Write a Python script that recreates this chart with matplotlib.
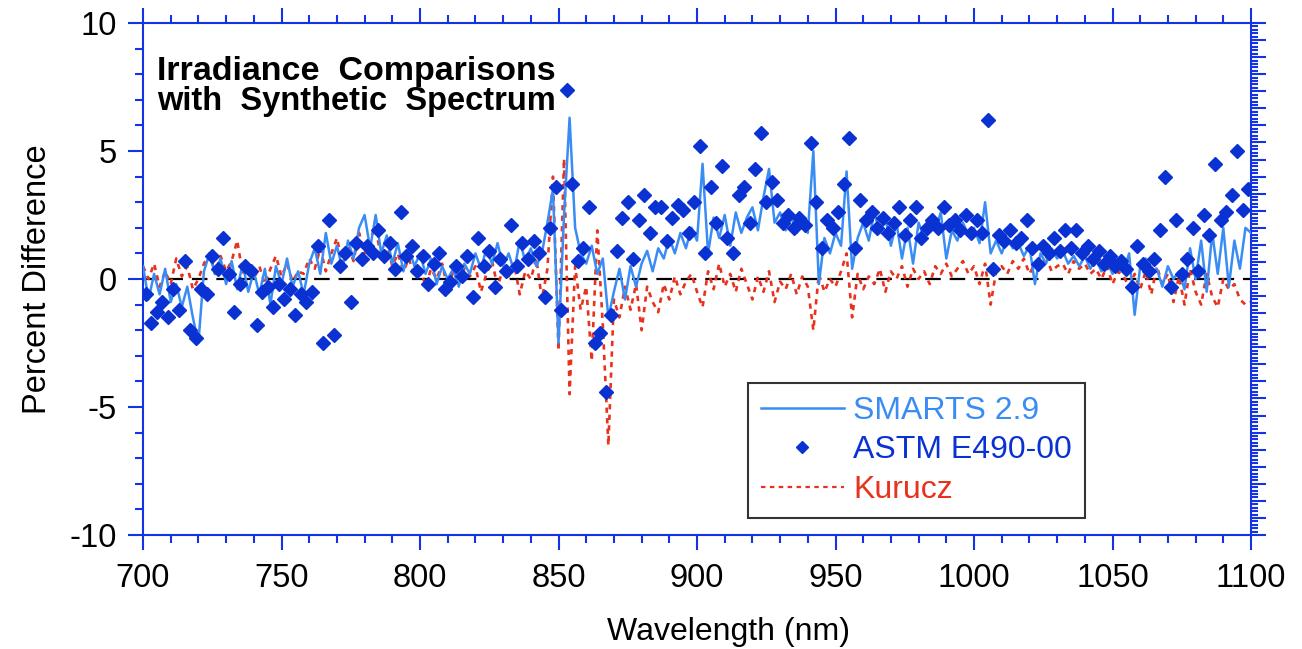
import numpy as np
import matplotlib
matplotlib.use("Agg")
import matplotlib.pyplot as plt
from matplotlib.ticker import MultipleLocator, NullFormatter
from matplotlib.lines import Line2D

plt.rcParams['font.family'] = ['Liberation Sans', 'DejaVu Sans']
plt.rcParams['axes.unicode_minus'] = False

# ---------------- data ----------------
wl_line = np.arange(700, 1101, 2)
smarts = [
    0.5, -0.8, 0.2, -0.6, 0.4, -0.9, -0.2, -1.1, -0.3, -1.5,
    -2.5, 0.3, 1.0, 0.2, 0.8, -0.2, 0.7, -0.4, 0.6, -0.5,
    0.3, -0.6, 0.4, -1.0, 0.5, -0.2, 0.8, -0.3, 0.3, -0.6,
    0.6, 1.2, 0.2, 1.8, 0.6, 1.3, 0.4, 1.5, 0.8, 2.0,
    2.5, 1.2, 2.5, 1.0, 1.7, 0.6, 1.4, 0.3, 1.2, 0.5,
    1.0, 0.2, 0.8, -0.2, 0.5, 0.0, 0.4, -0.3, 0.6, 0.2,
    1.0, 0.4, 1.2, 0.6, 1.4, 0.5, 1.0, 0.3, 1.5, 0.7,
    1.2, 0.5, 1.0, 2.2, 3.5, -2.5, 2.5, 6.3, 2.0, 1.0,
    0.6, 1.3, 0.2, 0.8, -1.5, -0.5, 0.4, -0.8, 0.5, -0.3,
    0.6, 1.1, 0.3, 1.2, 0.8, 1.6, 1.0, 1.8, 1.2, 2.0,
    1.5, 4.5, 1.0, 2.4, 1.6, 2.5, 1.3, 2.6, 1.8, 2.4,
    2.8, 1.9, 3.2, 4.3, 2.2, 2.6, 1.9, 2.4, 1.8, 2.2,
    1.8, 5.0, -0.2, 1.6, 1.0, 1.8, 1.3, 4.2, 0.4, 1.6,
    2.2, 1.5, 2.6, 1.8, 2.4, 1.3, 2.2, 0.8, 2.0, 0.6,
    2.2, 1.6, 2.3, 1.9, 2.6, 0.8, 1.9, 1.5, 2.2, 1.7,
    2.0, 1.4, 3.0, 1.0, 1.5, 1.0, 1.6, 1.2, 1.4, 0.9,
    1.3, -0.2, 1.0, 0.6, 1.2, 0.8, 1.1, 0.6, 0.9, 0.5,
    0.9, 0.4, 0.8, 0.3, 0.7, 0.2, 0.6, 0.3, 1.0, -1.4,
    0.5, 0.8, 0.2, 0.4, -0.3, 0.5, 0.0, 0.3, -0.4, 1.2,
    0.0, 1.5, -0.5, 1.8, 0.2, 2.0, -0.3, 1.5, 0.4, 2.0,
    1.8,
]
kurucz = [
    0.5, 0.0, 0.6, -0.3, 0.3, -0.2, 0.8, 0.1, 0.5, -0.4,
    0.0, 0.6, 1.0, 0.2, 0.9, 0.3, 0.7, 1.5, 0.2, 0.6,
    0.0, 0.5, -0.2, 0.4, 0.9, 0.1, 0.6, -0.1, 0.3, 0.2,
    0.8, 0.4, 1.2, 0.3, 1.0, 1.6, 0.6, 1.3, 0.7, 1.8,
    1.0, 1.6, 2.0, 0.8, 1.4, 0.5, 1.0, 0.3, 0.8, 0.1,
    0.5, -0.3, 0.4, 0.0, 0.6, -0.4, 0.3, -0.2, 0.4, 0.1,
    0.5, -0.5, 0.2, 0.7, -0.3, 0.4, 0.1, 0.6, -0.6, 0.3,
    0.0, 0.8, -0.8, 0.4, 4.0, -2.8, 4.7, -4.5, 0.5, -1.2,
    -0.3, -3.2, 1.9, -1.8, -6.5, -0.8, -1.5, -0.3, -1.2, -0.2,
    -2.0, -0.3, -0.9, -1.3, -0.2, -0.8, 0.1, -0.6, -0.1, 0.2,
    -0.5, -1.1, 0.3, -0.4, 0.6, -0.3, 0.2, -0.5, 0.4, -0.2,
    -0.8, 0.1, -0.5, 0.3, -0.9, -0.1, -0.4, 0.2, -0.6, 0.1,
    -0.3, -2.0, 0.2, -0.5, 0.0, -0.3, 0.3, 1.0, -1.5, 0.2,
    -0.4, 0.1, -0.2, 0.4, -0.5, 0.3, 0.0, 0.5, -0.3, 0.4,
    0.0, 0.3, -0.2, 0.5, 0.2, 0.6, 0.1, 0.4, 0.7, 0.2,
    0.5, -0.2, 0.6, -1.0, 0.3, 0.5, 0.2, 0.7, 0.4, 0.8,
    0.2, 0.6, 0.4, 0.9, 0.3, 0.5, 0.6, 0.2, 0.7, 0.4,
    0.6, 0.2, 0.4, 0.0, 0.5, -0.2, 0.3, 0.1, -0.3, 0.2,
    -0.4, 0.3, -0.6, 0.5, -0.2, 0.2, -0.9, 0.1, -1.0, 0.4,
    -0.5, -1.0, 0.2, -0.7, -1.1, 0.0, -0.4, -0.2, -0.8, -1.0,
    -0.9,
]
wl_astm = np.arange(701, 1100, 2)
astm = [
    -0.6, -1.7, -1.3, -0.9, -1.5, -0.4, -1.2, 0.7, -2.0, -2.3,
    -0.4, -0.6, 0.9, 0.4, 1.6, 0.2, -1.3, -0.2, 0.5, 0.3,
    -1.8, -0.5, -0.3, -1.1, -0.2, -0.8, -0.4, -1.4, -0.6, -0.9,
    -0.5, 1.3, -2.5, 2.3, -2.2, 0.5, 1.0, -0.9, 1.4, 0.8,
    1.3, 1.0, 1.9, 0.9, 1.4, 0.4, 2.6, 0.9, 1.3, 0.3,
    0.9, -0.2, 0.6, 1.0, -0.4, -0.1, 0.5, 0.1, 0.9, -0.7,
    1.6, 0.5, 1.1, -0.3, 0.8, 0.3, 2.1, 0.5, 1.4, 0.8,
    1.5, 1.0, -0.7, 2.0, 3.6, -1.2, 7.4, 3.7, 0.7, 1.2,
    2.8, -2.5, -2.1, -4.4, -1.4, 1.1, 2.4, 3.0, 0.8, 2.3,
    3.3, 1.8, 2.8, 2.8, 1.5, 2.4, 2.9, 2.7, 1.8, 3.0,
    5.2, 1.0, 3.6, 2.2, 4.4, 1.6, 1.0, 3.3, 3.6, 2.2,
    4.3, 5.7, 3.0, 3.8, 3.1, 2.2, 2.5, 2.0, 2.4, 2.1,
    5.3, 3.0, 1.2, 2.3, 2.0, 2.6, 3.7, 5.5, 1.2, 3.1,
    2.3, 2.6, 2.0, 2.4, 1.8, 2.2, 2.8, 1.7, 2.3, 2.8,
    1.6, 2.0, 2.3, 2.0, 2.8, 2.1, 2.3, 1.9, 2.5, 1.8,
    2.3, 1.8, 6.2, 0.4, 1.7, 1.5, 1.9, 1.4, 1.6, 2.3,
    1.2, 0.6, 1.3, 1.0, 1.6, 1.1, 1.9, 1.2, 1.9, 1.0,
    1.3, 0.8, 1.1, 0.6, 0.9, 0.5, 0.7, 0.4, -0.3, 1.3,
    0.6, 0.3, 0.8, 1.9, 4.0, -0.3, 2.3, 0.2, 0.8, 2.0,
    0.3, 2.5, 1.7, 4.5, 2.3, 2.6, 3.3, 5.0, 2.7, 3.5,
]

axis_blue = '#1432E6'
c_smarts = '#3A8CF5'
c_astm = '#0A32D2'
c_kur = '#E8321E'

fig = plt.figure(figsize=(13.02, 6.49), dpi=100)
ax = fig.add_axes([143/1302, 114/649, 1108/1302, 512/649])

ax.axhline(0, color='black', lw=1.6, dashes=(7, 4), zorder=1)
ax.plot(wl_line, kurucz, color=c_kur, lw=1.9, dashes=(2, 2), zorder=2)
ax.plot(wl_line, smarts, color=c_smarts, lw=1.8, zorder=3)
ax.plot(wl_astm, astm, ls='none', marker='D', ms=7.3, color=c_astm, mec=c_astm, zorder=4)

ax.set_xlim(700, 1100)
ax.set_ylim(-10, 10)
ax.xaxis.set_major_locator(MultipleLocator(50))
ax.xaxis.set_minor_locator(MultipleLocator(10))
ax.yaxis.set_major_locator(MultipleLocator(5))
ax.yaxis.set_minor_locator(MultipleLocator(1))
ax.tick_params(which='both', direction='out', color=axis_blue, width=1.5,
               top=True, right=False, labelsize=23.5)
ax.tick_params(which='major', length=11)
ax.tick_params(which='minor', length=5.5)
ax.tick_params(axis='y', pad=8)
ax.tick_params(axis='x', pad=9)
for s in ax.spines.values():
    s.set_color(axis_blue)
    s.set_linewidth(1.5)

ax2 = ax.twinx()
ax2.set_ylim(0, 30)
ax2.yaxis.set_major_locator(MultipleLocator(1))
ax2.yaxis.set_minor_locator(MultipleLocator(0.2))
ax2.yaxis.set_major_formatter(NullFormatter())
ax2.tick_params(which='both', direction='out', color=axis_blue, width=1.5)
ax2.tick_params(which='major', length=11)
ax2.tick_params(which='minor', length=5)
for s in ax2.spines.values():
    s.set_visible(False)

ax.set_xlabel('Wavelength (nm)', fontsize=23)
ax.xaxis.set_label_coords(0.528, -0.16)
ax.set_ylabel('Percent Difference', fontsize=23.5, labelpad=12)

ax.text(0.0126, 0.889, 'Irradiance  Comparisons', transform=ax.transAxes,
        fontsize=24.5, fontweight='bold', va='baseline', ha='left', zorder=6)
ax.text(0.0126, 0.830, 'with  Synthetic  Spectrum', transform=ax.transAxes,
        fontsize=23.5, fontweight='bold', va='baseline', ha='left', zorder=6)

handles = [
    Line2D([], [], color=c_smarts, lw=1.8),
    Line2D([], [], ls='none', marker='D', ms=6.5, color=c_astm),
    Line2D([], [], color=c_kur, lw=1.6, dashes=(2, 2)),
]
labels = ['SMARTS 2.9', 'ASTM E490-00', 'Kurucz']
leg = ax.legend(handles, labels, loc='upper left', bbox_to_anchor=(0.546, 0.297),
                fontsize=23, frameon=True, fancybox=False, handlelength=2.6,
                handletextpad=0.3, labelspacing=0.3, borderpad=0.4,
                borderaxespad=0)
leg.get_frame().set_edgecolor('black')
leg.get_frame().set_linewidth(1.5)
for t, c in zip(leg.get_texts(), [c_smarts, c_astm, c_kur]):
    t.set_color(c)
leg.set_zorder(7)

fig.savefig('out.png', dpi=100)
